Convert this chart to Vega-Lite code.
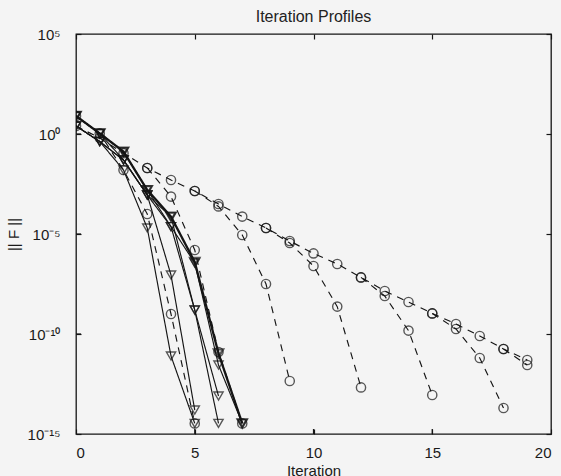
{
  "$schema": "https://vega.github.io/schema/vega-lite/v6.json",
  "width": 475,
  "height": 400,
  "autosize": "none",
  "padding": {"left": 76, "top": 34, "right": 10, "bottom": 42},
  "background": "#f4f4f4",
  "title": {
    "text": "Iteration Profiles",
    "fontSize": 16,
    "fontWeight": "normal",
    "font": "Liberation Sans",
    "color": "#222",
    "offset": 2
  },
  "data": {
    "values": [
      {"run": "c1", "method": "dashed", "it": 0, "F": 2.51},
      {"run": "c1", "method": "dashed", "it": 1, "F": 0.63},
      {"run": "c1", "method": "dashed", "it": 2, "F": 0.11},
      {"run": "c1", "method": "dashed", "it": 3, "F": 0.02},
      {"run": "c1", "method": "dashed", "it": 4, "F": 5.0e-3},
      {"run": "c1", "method": "dashed", "it": 5, "F": 1.41e-3},
      {"run": "c1", "method": "dashed", "it": 6, "F": 3.16e-4},
      {"run": "c1", "method": "dashed", "it": 7, "F": 7.41e-5},
      {"run": "c1", "method": "dashed", "it": 8, "F": 2.0e-5},
      {"run": "c1", "method": "dashed", "it": 9, "F": 4.47e-6},
      {"run": "c1", "method": "dashed", "it": 10, "F": 1.07e-6},
      {"run": "c1", "method": "dashed", "it": 11, "F": 3.16e-7},
      {"run": "c1", "method": "dashed", "it": 12, "F": 6.76e-8},
      {"run": "c1", "method": "dashed", "it": 13, "F": 1.41e-8},
      {"run": "c1", "method": "dashed", "it": 14, "F": 3.98e-9},
      {"run": "c1", "method": "dashed", "it": 15, "F": 1.07e-9},
      {"run": "c1", "method": "dashed", "it": 16, "F": 3.16e-10},
      {"run": "c1", "method": "dashed", "it": 17, "F": 7.94e-11},
      {"run": "c1", "method": "dashed", "it": 18, "F": 1.78e-11},
      {"run": "c1", "method": "dashed", "it": 19, "F": 5.01e-12},

      {"run": "c2", "method": "dashed", "it": 5, "F": 1.41e-3},
      {"run": "c2", "method": "dashed", "it": 6, "F": 2.40e-4},
      {"run": "c2", "method": "dashed", "it": 7, "F": 8.91e-6},
      {"run": "c2", "method": "dashed", "it": 8, "F": 3.16e-8},
      {"run": "c2", "method": "dashed", "it": 9, "F": 4.47e-13},

      {"run": "c3", "method": "dashed", "it": 8, "F": 2.0e-5},
      {"run": "c3", "method": "dashed", "it": 9, "F": 3.55e-6},
      {"run": "c3", "method": "dashed", "it": 10, "F": 2.51e-7},
      {"run": "c3", "method": "dashed", "it": 11, "F": 2.34e-9},
      {"run": "c3", "method": "dashed", "it": 12, "F": 2.14e-13},

      {"run": "c4", "method": "dashed", "it": 12, "F": 6.76e-8},
      {"run": "c4", "method": "dashed", "it": 13, "F": 7.94e-9},
      {"run": "c4", "method": "dashed", "it": 14, "F": 1.48e-10},
      {"run": "c4", "method": "dashed", "it": 15, "F": 8.91e-14},

      {"run": "c5", "method": "dashed", "it": 15, "F": 1.07e-9},
      {"run": "c5", "method": "dashed", "it": 16, "F": 1.78e-10},
      {"run": "c5", "method": "dashed", "it": 17, "F": 6.31e-12},
      {"run": "c5", "method": "dashed", "it": 18, "F": 2.0e-14},

      {"run": "c6", "method": "dashed", "it": 18, "F": 1.78e-11},
      {"run": "c6", "method": "dashed", "it": 19, "F": 2.82e-12},

      {"run": "c7", "method": "dashed", "it": 0, "F": 7.94},
      {"run": "c7", "method": "dashed", "it": 1, "F": 1.07},
      {"run": "c7", "method": "dashed", "it": 2, "F": 1.58e-2},
      {"run": "c7", "method": "dashed", "it": 3, "F": 1.0e-4},
      {"run": "c7", "method": "dashed", "it": 4, "F": 1.0e-9},
      {"run": "c7", "method": "dashed", "it": 5, "F": 3.39e-15},

      {"run": "c8", "method": "dashed", "it": 3, "F": 0.02},
      {"run": "c8", "method": "dashed", "it": 4, "F": 7.41e-4},
      {"run": "c8", "method": "dashed", "it": 5, "F": 1.58e-6},
      {"run": "c8", "method": "dashed", "it": 6, "F": 1.26e-11},
      {"run": "c8", "method": "dashed", "it": 7, "F": 3.39e-15},

      {"run": "t1", "method": "solid", "it": 0, "F": 7.94},
      {"run": "t1", "method": "solid", "it": 1, "F": 1.07},
      {"run": "t1", "method": "solid", "it": 2, "F": 0.132},
      {"run": "t1", "method": "solid", "it": 3, "F": 1.58e-3},
      {"run": "t1", "method": "solid", "it": 4, "F": 7.41e-5},
      {"run": "t1", "method": "solid", "it": 5, "F": 3.98e-7},
      {"run": "t1", "method": "solid", "it": 6, "F": 1.07e-11},
      {"run": "t1", "method": "solid", "it": 7, "F": 3.39e-15},

      {"run": "t2", "method": "solid", "it": 0, "F": 2.51},
      {"run": "t2", "method": "solid", "it": 1, "F": 0.42},
      {"run": "t2", "method": "solid", "it": 2, "F": 0.05},
      {"run": "t2", "method": "solid", "it": 3, "F": 8.91e-4},
      {"run": "t2", "method": "solid", "it": 4, "F": 2.34e-5},
      {"run": "t2", "method": "solid", "it": 5, "F": 3.55e-7},
      {"run": "t2", "method": "solid", "it": 6, "F": 2.82e-12},
      {"run": "t2", "method": "solid", "it": 7, "F": 3.39e-15},

      {"run": "t3", "method": "solid", "it": 0, "F": 2.51},
      {"run": "t3", "method": "solid", "it": 1, "F": 0.42},
      {"run": "t3", "method": "solid", "it": 2, "F": 1.58e-2},
      {"run": "t3", "method": "solid", "it": 3, "F": 2.0e-5},
      {"run": "t3", "method": "solid", "it": 4, "F": 7.94e-12},
      {"run": "t3", "method": "solid", "it": 5, "F": 3.39e-15},

      {"run": "t4", "method": "solid", "it": 0, "F": 7.94},
      {"run": "t4", "method": "solid", "it": 1, "F": 1.07},
      {"run": "t4", "method": "solid", "it": 2, "F": 0.05},
      {"run": "t4", "method": "solid", "it": 3, "F": 8.91e-4},
      {"run": "t4", "method": "solid", "it": 4, "F": 8.91e-8},
      {"run": "t4", "method": "solid", "it": 5, "F": 1.58e-14},

      {"run": "t5", "method": "solid", "it": 0, "F": 7.94},
      {"run": "t5", "method": "solid", "it": 1, "F": 1.07},
      {"run": "t5", "method": "solid", "it": 2, "F": 0.132},
      {"run": "t5", "method": "solid", "it": 3, "F": 1.58e-3},
      {"run": "t5", "method": "solid", "it": 4, "F": 2.34e-5},
      {"run": "t5", "method": "solid", "it": 5, "F": 1.58e-9},
      {"run": "t5", "method": "solid", "it": 6, "F": 7.94e-14},

      {"run": "t6", "method": "solid", "it": 0, "F": 2.51},
      {"run": "t6", "method": "solid", "it": 1, "F": 0.42},
      {"run": "t6", "method": "solid", "it": 2, "F": 0.05},
      {"run": "t6", "method": "solid", "it": 3, "F": 8.91e-4},
      {"run": "t6", "method": "solid", "it": 4, "F": 7.41e-5},
      {"run": "t6", "method": "solid", "it": 5, "F": 1.58e-9},
      {"run": "t6", "method": "solid", "it": 6, "F": 3.39e-15}
    ]
  },
  "encoding": {
    "x": {
      "field": "it",
      "type": "quantitative",
      "scale": {"domain": [0, 20], "nice": false, "zero": false},
      "axis": null
    },
    "y": {
      "field": "F",
      "type": "quantitative",
      "scale": {"type": "log", "domain": [1e-15, 1e5], "nice": false},
      "axis": null
    }
  },
  "layer": [
    {
      "mark": {"type": "line", "color": "#151515", "clip": true},
      "encoding": {
        "x": {
          "field": "it",
          "type": "quantitative",
          "axis": {
            "orient": "bottom",
            "values": [0, 5, 10, 15, 20],
            "title": "Iteration",
            "titlePadding": 3,
            "ticks": true,
            "tickSize": 5,
            "tickColor": "#151515",
            "tickWidth": 1.2
          }
        },
        "y": {
          "field": "F",
          "type": "quantitative",
          "axis": {
            "orient": "left",
            "values": [1e-15, 1e-10, 1e-5, 1, 1e5],
            "labelExpr": "datum.value >= 1e4 ? '10⁵' : datum.value >= 0.5 ? '10⁰' : datum.value >= 1e-6 ? '10⁻⁵' : datum.value >= 1e-11 ? '10⁻¹⁰' : '10⁻¹⁵'",
            "title": "|| F ||",
            "titlePadding": 6,
            "labelPadding": 16,
            "ticks": true,
            "tickSize": 5,
            "tickColor": "#151515",
            "tickWidth": 1.2
          }
        },
        "detail": {"field": "run"},
        "strokeDash": {
          "field": "method",
          "type": "nominal",
          "scale": {"domain": ["dashed", "solid"], "range": [[7, 6], [1, 0]]},
          "legend": null
        },
        "strokeWidth": {
          "condition": {"test": "datum.run === 't1'", "value": 2.3},
          "value": 1.15
        }
      }
    },
    {
      "mark": {"type": "point", "filled": false, "color": "#151515", "size": 85, "clip": true},
      "encoding": {
        "shape": {
          "field": "method",
          "type": "nominal",
          "scale": {"domain": ["dashed", "solid"], "range": ["circle", "triangle-down"]},
          "legend": null
        },
        "strokeWidth": {
          "condition": {"test": "datum.run === 't1'", "value": 2.3},
          "value": 1.4
        }
      }
    },
    {
      "mark": {"type": "point", "opacity": 0},
      "encoding": {
        "x": {
          "field": "it",
          "type": "quantitative",
          "axis": {"orient": "top", "values": [0, 5, 10, 15, 20], "labels": false, "title": null, "ticks": true, "tickSize": 5, "tickColor": "#151515", "tickWidth": 1.2}
        },
        "y": {
          "field": "F",
          "type": "quantitative",
          "axis": {"orient": "right", "values": [1e-15, 1e-10, 1e-5, 1, 1e5], "labels": false, "title": null, "ticks": true, "tickSize": 5, "tickColor": "#151515", "tickWidth": 1.2}
        }
      }
    },
    {
      "data": {
        "values": [
          {"at": 5, "edge": 1e-15},
          {"at": 10, "edge": 1e-15},
          {"at": 15, "edge": 1e-15}
        ]
      },
      "mark": {"type": "tick", "orient": "vertical", "size": 10, "thickness": 1.2, "color": "#151515", "opacity": 1, "clip": true},
      "encoding": {
        "x": {"field": "at", "type": "quantitative", "axis": null},
        "y": {"field": "edge", "type": "quantitative", "axis": null}
      }
    },
    {
      "data": {
        "values": [
          {"at": 1e-10, "edge": 0},
          {"at": 1e-5, "edge": 0},
          {"at": 1, "edge": 0}
        ]
      },
      "mark": {"type": "tick", "orient": "horizontal", "size": 10, "thickness": 1.2, "color": "#151515", "opacity": 1, "clip": true},
      "encoding": {
        "x": {"field": "edge", "type": "quantitative", "axis": null},
        "y": {"field": "at", "type": "quantitative", "axis": null}
      }
    }
  ],
  "resolve": {"axis": {"x": "independent", "y": "independent"}},
  "config": {
    "view": {"stroke": "#151515", "strokeWidth": 1.3},
    "axis": {
      "grid": false,
      "zindex": 1,
      "domain": false,
      "offset": -5,
      "labelFont": "Liberation Sans",
      "labelFontSize": 15,
      "labelColor": "#1a1a1a",
      "labelPadding": 11,
      "titleFont": "Liberation Sans",
      "titleFontSize": 15,
      "titleFontWeight": "normal",
      "titleColor": "#1a1a1a"
    }
  }
}
